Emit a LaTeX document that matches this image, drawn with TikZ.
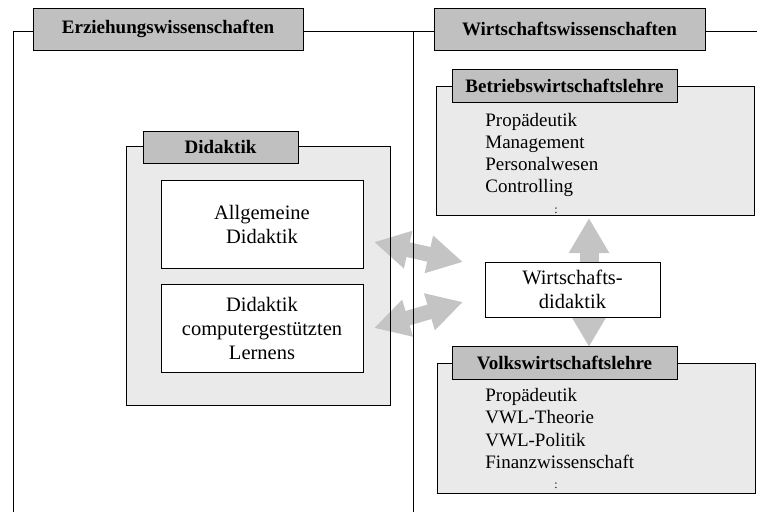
\documentclass[tikz,border=0pt]{standalone}
\usepackage{fontspec}
\setmainfont{Liberation Serif}
\usetikzlibrary{arrows.meta}
\definecolor{headgray}{HTML}{C0C0C0}
\definecolor{panelgray}{HTML}{EAEAEA}
\definecolor{arrowgray}{HTML}{C4C4C4}

\begin{document}
\begin{tikzpicture}[x=1pt,y=-1pt,line width=0.8pt,
  header/.style={draw, fill=headgray, inner sep=0pt,
    font=\fontsize{19}{22}\selectfont\bfseries},
  panel/.style={fill=panelgray, inner sep=0pt},
  whitebox/.style={draw, fill=white, inner sep=0pt, align=center,
    font=\fontsize{20.5}{24}\selectfont},
  item/.style={anchor=base west, inner sep=0pt,
    font=\fontsize{19}{22}\selectfont},
  dots/.style={anchor=base, inner sep=0pt, font=\fontsize{12}{14}\selectfont},
  bigarrow/.style={draw=arrowgray, line width=15pt,
    {Triangle[width=36pt,length=35pt]}-{Triangle[width=36pt,length=35pt]}},
  vertarrow/.style={draw=arrowgray, line width=19pt,
    {Triangle[width=38pt,length=35pt]}-{Triangle[width=38pt,length=35pt]}}]

\useasboundingbox (0,0) rectangle (757,512);

% column frames
\draw (13,512) -- (13,31) -- (33,31);
\draw (303,31) -- (434,31);
\draw (413,31) -- (413,512);
\draw (705,31) -- (757,31);

% Didaktik panel background
\node[panel, minimum width=263pt, minimum height=258pt] (did) at (258.5,276) {};

% double arrows
\coordinate (a1) at (374,242);
\coordinate (a2) at (463,262);
\coordinate (b1) at (374,328);
\coordinate (b2) at (463,302);
\coordinate (v1) at (589,218);
\coordinate (v2) at (589,347);
\draw[bigarrow] (a1) -- (a2);
\draw[bigarrow] (b1) -- (b2);
\draw[vertarrow] (v1) -- (v2);

% lines that run over the arrows
\draw (did.north west) rectangle (did.south east);
\draw (413,31) -- (413,512);

% column headers
\node[header, minimum width=270pt, minimum height=42pt] (ezw) at (168,29) {Erziehungswissenschaften};
\node[header, minimum width=271pt, minimum height=42pt] (wiw) at (569.5,29) {Wirtschaftswissenschaften};

% Didaktik
\node[header, minimum width=155pt, minimum height=32pt] (didh) at (220.5,147) {Didaktik};
\node[whitebox, minimum width=202pt, minimum height=88pt] (allg) at (262,224) {Allgemeine\\Didaktik};
\node[whitebox, minimum width=202pt, minimum height=88pt] (dcl) at (262,328) {Didaktik\\computergestützten\\Lernens};

% Betriebswirtschaftslehre
\node[panel, draw, minimum width=318pt, minimum height=129pt] (bwl) at (595,150.5) {};
\node[header, minimum width=225pt, minimum height=33pt] (bwlh) at (564.5,85.5) {Betriebswirtschaftslehre};
\node[item] (b1t) at (485,126) {Propädeutik};
\node[item] (b2t) at (485,148) {Management};
\node[item] (b3t) at (485,170) {Personalwesen};
\node[item] (b4t) at (485,192) {Controlling};
\node[dots] (b5t) at (556,213) {:};

% Wirtschaftsdidaktik
\node[whitebox, minimum width=175pt, minimum height=55pt] (wd) at (572.5,289.5) {Wirtschafts-\\didaktik};

% Volkswirtschaftslehre
\node[panel, draw, minimum width=318pt, minimum height=130pt] (vwl) at (596,428) {};
\node[header, minimum width=225pt, minimum height=33pt] (vwlh) at (564.5,362.5) {Volkswirtschaftslehre};
\node[item] (v1t) at (485,401) {Propädeutik};
\node[item] (v2t) at (485,423) {VWL-Theorie};
\node[item] (v3t) at (485,446) {VWL-Politik};
\node[item] (v4t) at (485,468) {Finanzwissenschaft};
\node[dots] (v5t) at (556,488) {:};

\end{tikzpicture}
\end{document}
